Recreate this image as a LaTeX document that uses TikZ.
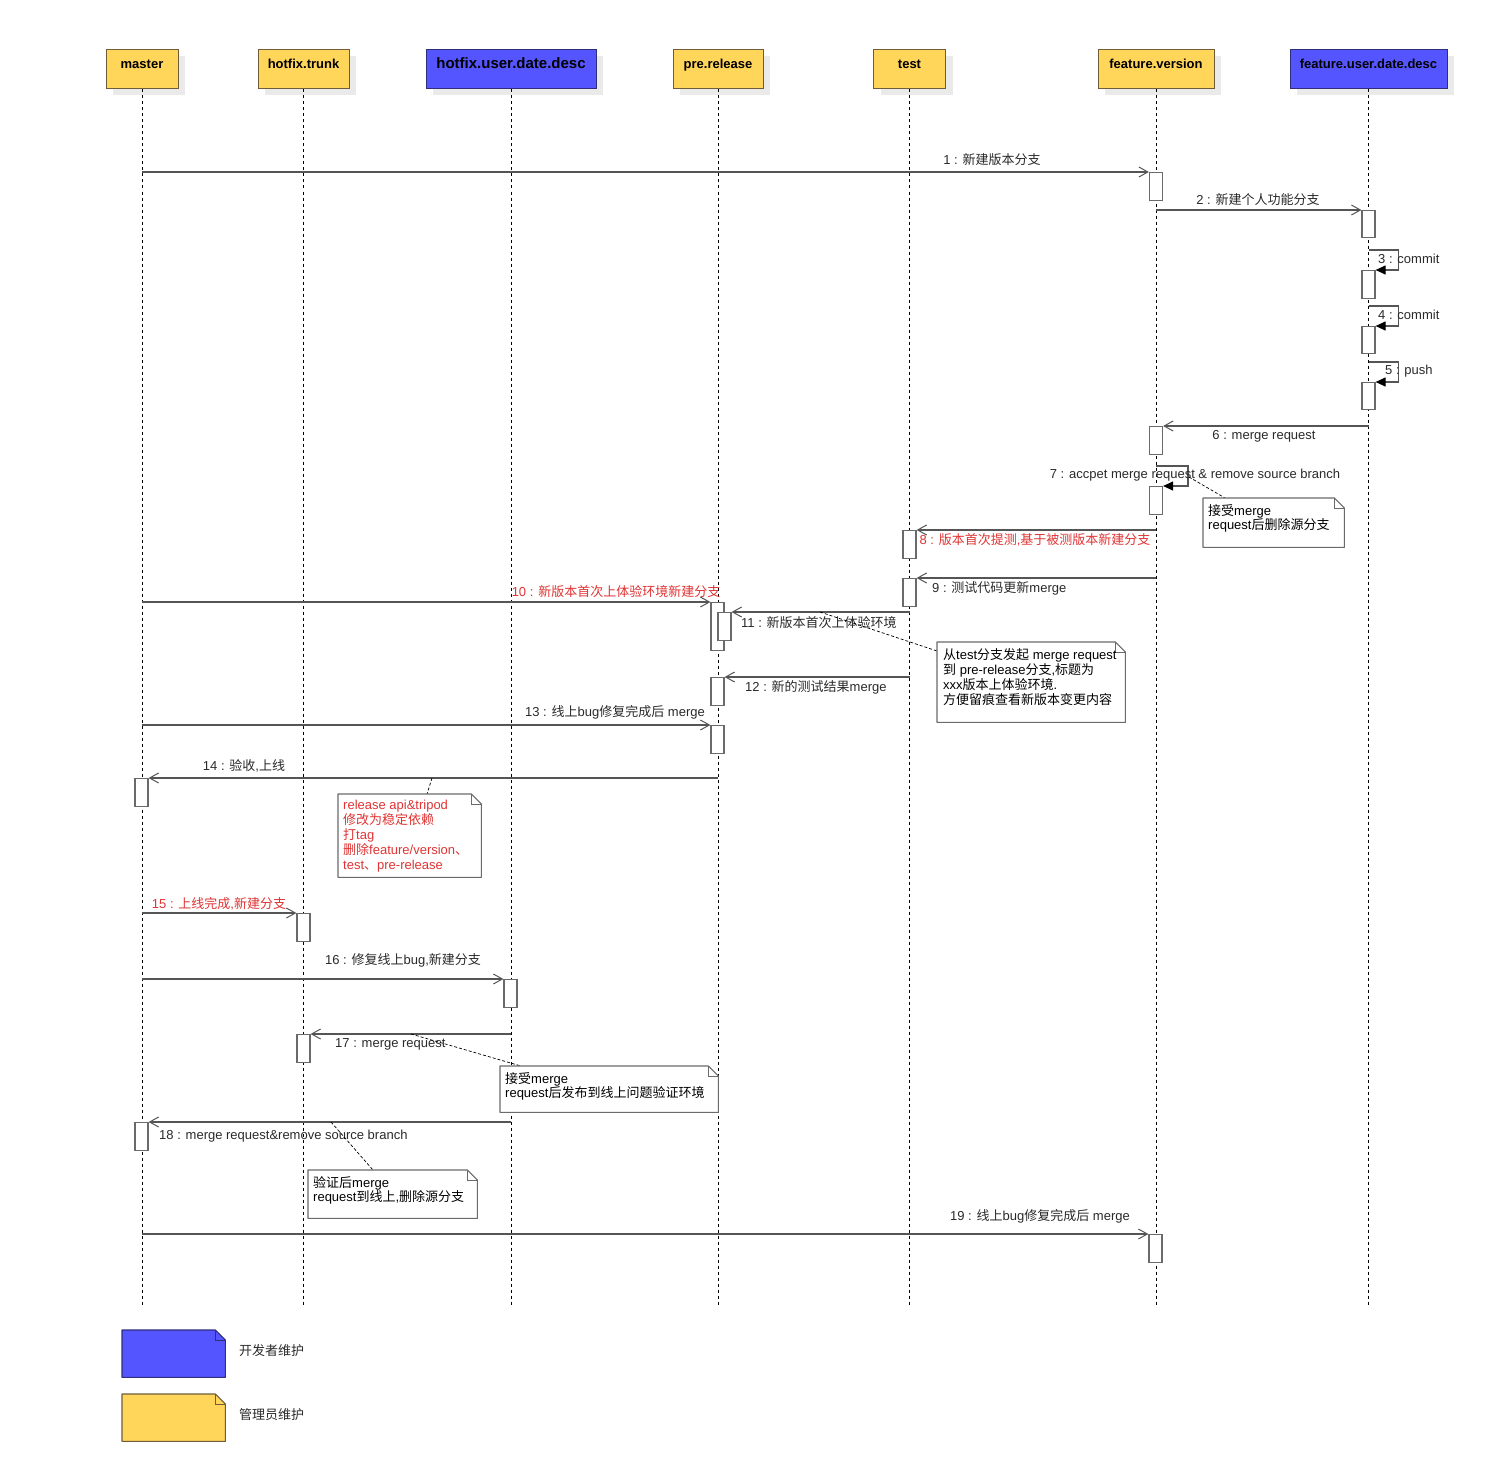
\documentclass[tikz,border=0pt]{standalone}
\usepackage{fontspec}
\setmainfont{Liberation Sans}
\newfontfamily\cjk{Noto Sans CJK SC}
\newcommand\zh[1]{{\cjk #1}}
\usetikzlibrary{arrows.meta,calc}
\definecolor{yel}{HTML}{FFD55A}
\definecolor{yelb}{HTML}{6E5D38}
\definecolor{blu}{HTML}{5555FF}
\definecolor{blub}{HTML}{2E2E7A}
\definecolor{shad}{HTML}{EAEAEA}
\definecolor{msgc}{HTML}{555555}
\definecolor{actc}{HTML}{6A6A6A}
\definecolor{redt}{HTML}{E03434}
\definecolor{txt}{HTML}{2A2A2A}
\newcommand\foldnote[3]{%
  \filldraw[fill=#2, draw=#3, line width=1.1pt, line join=round] (#1.south west) -- (#1.north west) -- ([xshift=-10pt]#1.north east) -- ([yshift=-10pt]#1.north east) -- (#1.south east) -- cycle;
  \draw[draw=#3, line width=0.9pt] ([xshift=-10pt]#1.north east) |- ([yshift=-10pt]#1.north east);}
\tikzset{
  headbase/.style={line width=1pt, inner sep=0pt, minimum height=39pt, text height=10pt, text depth=12pt,
    font=\bfseries\fontsize{13pt}{15pt}\selectfont, text=black,
    preaction={fill=shad, transform canvas={xshift=7pt,yshift=-6pt}}},
  yhead/.style={headbase, draw=yelb, fill=yel},
  bhead/.style={headbase, draw=blub, fill=blu},
  life/.style={draw=black, line width=0.8pt, dash pattern=on 3pt off 3pt},
  act/.style={draw=actc, fill=white, line width=1.2pt, minimum width=13pt, inner sep=0pt, anchor=north},
  msg/.style={draw=msgc, line width=1.2pt, -{Straight Barb[length=9pt,width=10pt,line width=1pt]}},
  selfmsg/.style={draw=msgc, line width=1.2pt, -{Triangle[length=10pt,width=9pt,fill=black,color=black]}},
  lbl/.style={inner sep=0pt, text=txt, yshift=-1pt},
  rlbl/.style={inner sep=0pt, text=redt, yshift=-1pt},
  notebox/.style={inner sep=0pt, anchor=north west},
  notetxt/.style={inner sep=0pt, anchor=north west, align=left, text=black},
  notelink/.style={draw=black, line width=0.7pt, dash pattern=on 3pt off 2pt},
}
\begin{document}
\begin{tikzpicture}[x=1pt,y=-1pt, every node/.style={font=\fontsize{13pt}{15pt}\selectfont}]
\useasboundingbox (0,0) rectangle (1487,1482);
\fill[white] (0,0) rectangle (1487,1482);
\coordinate (bot) at (0,1305);
% headers
\node[yhead, minimum width=72pt] (h1) at (142,69.5) {master};
\node[yhead, minimum width=91pt] (h2) at (303.5,69.5) {hotfix.trunk};
\node[bhead, minimum width=170pt, font=\bfseries\fontsize{15pt}{17pt}\selectfont] (h3) at (511,69.5) {hotfix.user.date.desc};
\node[yhead, minimum width=90pt] (h4) at (718,69.5) {pre.release};
\node[yhead, minimum width=72pt] (h5) at (909.5,69.5) {test};
\node[yhead, minimum width=116pt] (h6) at (1156,69.5) {feature.version};
\node[bhead, minimum width=157pt] (h7) at (1368.5,69.5) {feature.user.date.desc};
% lifelines
\foreach \h in {h1,h2,h3,h4,h5,h6,h7}{\draw[life] (\h.south) -- (\h.south |- bot);}
% activations
\node[act, minimum height=28pt] (a1) at (1156,172) {};
\node[act, minimum height=27pt] (a2) at (1368.5,210) {};
\node[act, minimum height=28pt] (a3) at (1368.5,270) {};
\node[act, minimum height=27pt] (a4) at (1368.5,326) {};
\node[act, minimum height=27pt] (a5) at (1368.5,382) {};
\node[act, minimum height=28pt] (a6) at (1156,426) {};
\node[act, minimum height=28pt] (a7) at (1156,486) {};
\node[act, minimum height=28pt] (a8) at (909.5,530) {};
\node[act, minimum height=28pt] (a9) at (909.5,578) {};
\node[act, minimum height=48pt] (a10) at (717.5,602) {};
\node[act, minimum height=28pt] (a11) at (724.5,612) {};
\node[act, minimum height=28pt] (a12) at (717.5,677) {};
\node[act, minimum height=28pt] (a13) at (717.5,725) {};
\node[act, minimum height=28pt] (a14) at (141.5,778) {};
\node[act, minimum height=28pt] (a15) at (303.5,913) {};
\node[act, minimum height=28pt] (a16) at (510.5,979) {};
\node[act, minimum height=28pt] (a17) at (303.5,1034) {};
\node[act, minimum height=28pt] (a18) at (141.5,1122) {};
\node[act, minimum height=28pt] (a19) at (1155.5,1234) {};
% self-message starts
\coordinate (s3) at (1368.5,250);
\coordinate (s4) at (1368.5,306);
\coordinate (s5) at (1368.5,362);
\coordinate (s7) at (1156,466);
% messages
\draw[msg] (h1 |- a1.north) -- (a1.north west);
\draw[msg] (h6 |- a2.north) -- (a2.north west);
\draw[selfmsg] (s3) -- ++(30,0) |- (a3.north east);
\draw[selfmsg] (s4) -- ++(30,0) |- (a4.north east);
\draw[selfmsg] (s5) -- ++(30,0) |- (a5.north east);
\draw[msg] (h7 |- a6.north) -- (a6.north east);
\draw[selfmsg] (s7) -- ++(32,0) |- (a7.north east);
\draw[msg] (h6 |- a8.north) -- (a8.north east);
\draw[msg] (h6 |- a9.north) -- (a9.north east);
\draw[msg] (h1 |- a10.north) -- (a10.north west);
\draw[msg] (h5 |- a11.north) -- (a11.north east);
\draw[msg] (h5 |- a12.north) -- (a12.north east);
\draw[msg] (h1 |- a13.north) -- (a13.north west);
\draw[msg] (h4 |- a14.north) -- (a14.north east);
\draw[msg] (h1 |- a15.north) -- (a15.north west);
\draw[msg] (h1 |- a16.north) -- (a16.north west);
\draw[msg] (h3 |- a17.north) -- (a17.north east);
\draw[msg] (h3 |- a18.north) -- (a18.north east);
\draw[msg] (h1 |- a19.north) -- (a19.north west);
% labels
\node[lbl] (l1) at (992,159) {1 : \zh{新建版本分支}};
\node[lbl] (l2) at (1258,199) {2 : \zh{新建个人功能分支}};
\node[lbl, anchor=west] (l3) at (1378,258) {3 : commit};
\node[lbl, anchor=west] (l4) at (1378,314) {4 : commit};
\node[lbl, anchor=west] (l5) at (1385,370) {5 : push};
\node[lbl] (l6) at (1264,435) {6 : merge request};
\node[lbl] (l7) at (1195,474) {7 : accpet merge request \& remove source branch};
\node[rlbl] (l8) at (1035,539) {8 : \zh{版本首次提测},\zh{基于被测版本新建分支}};
\node[lbl, anchor=west] (l9) at (932,587) {9 : \zh{测试代码更新}merge};
\node[rlbl] (l10) at (616,591) {10 : \zh{新版本首次上体验环境新建分支}};
\node[lbl, anchor=west] (l11) at (741,622) {11 : \zh{新版本首次上体验环境}};
\node[lbl, anchor=west] (l12) at (745,686) {12 : \zh{新的测试结果}merge};
\node[lbl] (l13) at (615,711) {13 : \zh{线上}bug\zh{修复完成后} merge};
\node[lbl] (l14) at (244,765) {14 : \zh{验收},\zh{上线}};
\node[rlbl] (l15) at (219,903) {15 : \zh{上线完成},\zh{新建分支}};
\node[lbl] (l16) at (403,959) {16 : \zh{修复线上}bug,\zh{新建分支}};
\node[lbl, anchor=west] (l17) at (335,1043) {17 : merge request};
\node[lbl, anchor=west] (l18) at (159,1135) {18 : merge request\&remove source branch};
\node[lbl] (l19) at (1040,1215) {19 : \zh{线上}bug\zh{修复完成后} merge};
% note anchors on messages
\coordinate (k1) at (1189,477);
\coordinate (k2) at (820,612);
\coordinate (k3) at (432,778);
\coordinate (k4) at (411,1034);
\coordinate (k5) at (331,1122);
% notes
\node[notebox, minimum width=141pt, minimum height=49pt] (n1) at (1203,498) {};
\node[notebox, minimum width=188pt, minimum height=80pt] (n2) at (937,642) {};
\node[notebox, minimum width=143pt, minimum height=83pt] (n3) at (338,794) {};
\node[notebox, minimum width=218pt, minimum height=46pt] (n4) at (500,1066) {};
\node[notebox, minimum width=169pt, minimum height=48pt] (n5) at (308,1170) {};
\draw[notelink] (k1) -- (1225,498);
\draw[notelink] (k2) -- (n2.west |- 0,651);
\draw[notelink] (k3) -- (427,794);
\draw[notelink] (k4) -- (521,1066);
\draw[notelink] (k5) -- (373,1170);
\foldnote{n1}{white}{actc}
\foldnote{n2}{white}{actc}
\foldnote{n3}{white}{actc}
\foldnote{n4}{white}{actc}
\foldnote{n5}{white}{actc}
\node[notetxt, font=\fontsize{13pt}{13pt}\selectfont] (n1t) at (1208,504) {\zh{接受}merge\\request\zh{后删除源分支}};
\node[notetxt, font=\fontsize{13pt}{15pt}\selectfont] (n2t) at (943,648) {\zh{从}test\zh{分支发起} merge request\\\zh{到} pre-release\zh{分支},\zh{标题为}\\xxx\zh{版本上体验环境}.\\\zh{方便留痕查看新版本变更内容}};
\node[notetxt, text=redt, font=\fontsize{13pt}{15pt}\selectfont] (n3t) at (343,800) {release api\&tripod\\\zh{修改为稳定依赖}\\\zh{打}tag\\\zh{删除}feature/version\zh{、}\\test\zh{、}pre-release};
\node[notetxt, font=\fontsize{13pt}{13pt}\selectfont] (n4t) at (505,1072) {\zh{接受}merge\\request\zh{后发布到线上问题验证环境}};
\node[notetxt, font=\fontsize{13pt}{13pt}\selectfont] (n5t) at (313,1176) {\zh{验证后}merge\\request\zh{到线上},\zh{删除源分支}};
% legend
\node[notebox, minimum width=103pt, minimum height=47pt] (g1) at (122,1330) {};
\node[notebox, minimum width=103pt, minimum height=47pt] (g2) at (122,1394) {};
\foldnote{g1}{blu}{blub}
\foldnote{g2}{yel}{yelb}
\node[lbl, anchor=west] (g1t) at (239,1350) {\zh{开发者维护}};
\node[lbl, anchor=west] (g2t) at (239,1414) {\zh{管理员维护}};
\end{tikzpicture}
\end{document}
